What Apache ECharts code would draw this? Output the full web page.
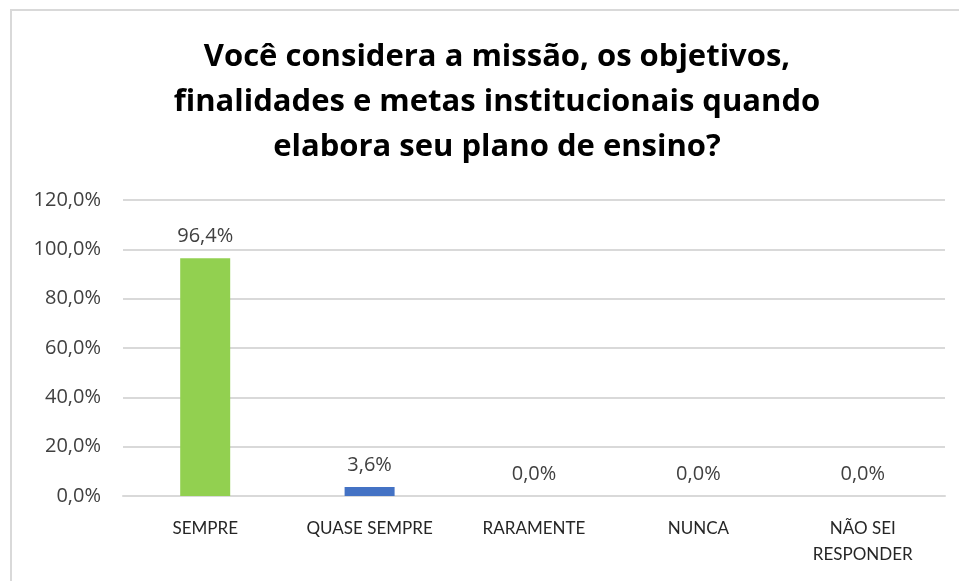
<!DOCTYPE html>
<html>
<head>
<meta charset="utf-8">
<script src="https://cdn.jsdelivr.net/npm/echarts@6/dist/echarts.min.js"></script>
<style>
  html, body { margin: 0; padding: 0; background: #fff; }
  .frame {
    position: absolute; left: 10px; top: 9px; width: 960px; height: 590px;
    border-left: 2px solid #d9d9d9; border-top: 2px solid #d9d9d9;
  }
  #chart { position: absolute; left: 0; top: 0; width: 959px; height: 581px; }
</style>
</head>
<body>
<div class="frame"></div>
<div id="chart"></div>
<script>
const titleText = "Você considera a missão, os objetivos,\nfinalidades e metas institucionais quando\nelabora seu plano de ensino?";
const categories = ["SEMPRE", "QUASE SEMPRE", "RARAMENTE", "NUNCA", "NÃO SEI\nRESPONDER"];
const values = [96.4, 3.6, 0, 0, 0];
const barColors = ["#92d050", "#4472c4", "#4472c4", "#4472c4", "#4472c4"];

function pct(v) {
  return v.toFixed(1).replace(".", ",") + "%";
}

let chart = echarts.init(document.getElementById("chart"));
let option = {
  backgroundColor: "transparent",
  title: {
    text: titleText,
    left: 492,
    top: 30,
    textAlign: "center",
    textStyle: {
      fontFamily: "Open Sans",
      fontWeight: "bold",
      fontSize: 31,
      lineHeight: 45,
      color: "#000"
    }
  },
  grid: {
    left: 123,
    right: 14,
    top: 200,
    bottom: 85
  },
  xAxis: {
    type: "category",
    data: categories,
    axisLine: { lineStyle: { color: "#d9d9d9", width: 2 } },
    axisTick: { show: false },
    axisLabel: {
      color: "#262626",
      fontFamily: "Lato",
      fontSize: 17,
      lineHeight: 26,
      margin: 20,
      interval: 0
    }
  },
  yAxis: {
    type: "value",
    min: 0,
    max: 120,
    interval: 20,
    axisLine: { show: false },
    axisTick: { show: false },
    splitLine: { lineStyle: { color: "#d9d9d9", width: 2 } },
    axisLabel: {
      color: "#404040",
      fontFamily: "Open Sans",
      fontSize: 20,
      margin: 22,
      formatter: (v) => pct(v)
    }
  },
  series: [
    {
      type: "bar",
      barWidth: 50,
      data: values.map((v, i) => ({ value: v, itemStyle: { color: barColors[i] } })),
      label: {
        show: true,
        position: "top",
        distance: 12,
        color: "#404040",
        fontFamily: "Open Sans",
        fontSize: 20,
        formatter: (p) => pct(p.value)
      }
    }
  ]
};
chart.setOption(option);
</script>
</body>
</html>
